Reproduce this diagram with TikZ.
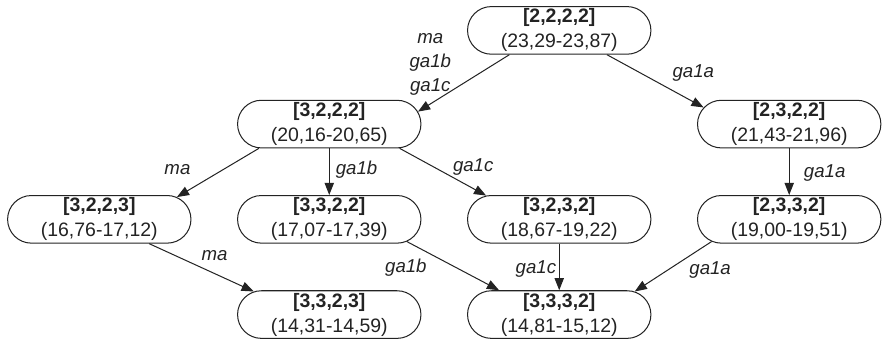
\documentclass[tikz,border=0pt]{standalone}
\usepackage{fontspec}
\setmainfont{Liberation Sans}
\usepackage{tikz}
\usetikzlibrary{shapes.misc, arrows.meta, positioning, calc}
\definecolor{mydark}{RGB}{35,35,35}
\tikzset{
  statebox/.style={rounded rectangle, draw=mydark, line width=0.5pt,
    minimum width=92.5pt, minimum height=23.5pt, inner sep=1pt,
    align=center, text=mydark, font=\fontsize{9.6}{12.3}\selectfont},
  arrow/.style={-{Triangle[length=6pt,width=4.6pt]}, line width=0.5pt, color=mydark},
  lbl/.style={inner sep=0pt, align=center, text=mydark,
    font=\fontsize{9.2}{12}\selectfont\itshape}
}

\begin{document}
\begin{tikzpicture}[node distance=23pt and 22.5pt]
  % Nodes
  \node[statebox] (s3222) {\textbf{[3,2,2,2]}\\(20,16-20,65)};
  \node[statebox, below=23pt of s3222] (s3322) {\textbf{[3,3,2,2]}\\(17,07-17,39)};
  \node[statebox, left=22.5pt of s3322] (s3223) {\textbf{[3,2,2,3]}\\(16,76-17,12)};
  \node[statebox, right=22.5pt of s3322] (s3232) {\textbf{[3,2,3,2]}\\(18,67-19,22)};
  \node[statebox, right=22.5pt of s3232] (s2332) {\textbf{[2,3,3,2]}\\(19,00-19,51)};
  \node[statebox, below=23pt of s3322] (s3323) {\textbf{[3,3,2,3]}\\(14,31-14,59)};
  \node[statebox, below=23pt of s3232] (s3332) {\textbf{[3,3,3,2]}\\(14,81-15,12)};
  \node[statebox, above=23pt of s2332] (s2322) {\textbf{[2,3,2,2]}\\(21,43-21,96)};
  \node[statebox, above=69.25pt of s3232] (s2222) {\textbf{[2,2,2,2]}\\(23,29-23,87)};

  \useasboundingbox ($(s3223.west |- s2222.north)+(-3.5pt,3pt)$) rectangle ($(s2332.east |- s3332.south)+(0.3pt,-0.3pt)$);

  % Arrows
  \draw[arrow] (s2222.206) -- node[lbl, xshift=-16.5pt, yshift=9.25pt] {ma\\ga1b\\ga1c} (s3222.8);
  \draw[arrow] (s2222.333) -- node[lbl, xshift=18.75pt, yshift=4pt] {ga1a} (s2322.169);
  \draw[arrow] (s3222.199) -- node[lbl, xshift=-20pt, yshift=1.75pt] {ma} (s3223.16.5);
  \draw[arrow] (s3222.south) -- node[lbl, xshift=13.5pt, yshift=1.25pt] {ga1b} (s3322.north);
  \draw[arrow] (s3222.341.7) -- node[lbl, xshift=15pt, yshift=2.25pt] {ga1c} (s3232.162.3);
  \draw[arrow] (s2322.south) -- node[lbl, xshift=17.5pt, yshift=-0.75pt] {ga1a} (s2332.north);
  \draw[arrow] (s3223.334) -- node[lbl, xshift=6.5pt, yshift=5.75pt] {ma} (s3323.163.3);
  \draw[arrow] (s3322.344.3) -- node[lbl, xshift=-23.25pt, yshift=-1pt] {ga1b} (s3332.158);
  \draw[arrow] (s3232.south) -- node[lbl, xshift=-11.5pt, yshift=-1.25pt] {ga1c} (s3332.north);
  \draw[arrow] (s2332.196) -- node[lbl, xshift=18.25pt, yshift=-1.5pt] {ga1a} (s3332.17.7);
\end{tikzpicture}
\end{document}
